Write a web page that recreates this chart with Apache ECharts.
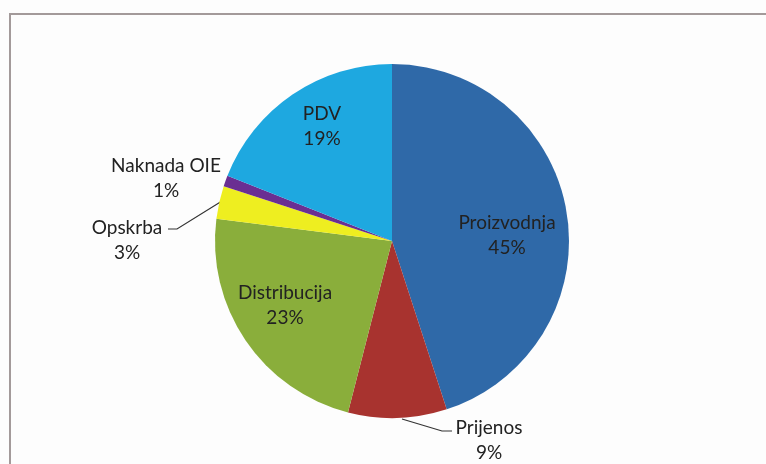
<!DOCTYPE html>
<html>
<head>
<meta charset="utf-8">
<script src="https://cdn.jsdelivr.net/npm/echarts@6/dist/echarts.min.js"></script>
<style>
  html, body { margin: 0; padding: 0; background: #fdfdfd; }
  #wrap { position: relative; width: 766px; height: 464px; overflow: hidden; }
  #frame {
    position: absolute; left: 9px; top: 13px; width: 800px; height: 500px;
    border-left: 2px solid #a39a9a; border-top: 2px solid #a39a9a;
  }
  #chart { position: absolute; left: 0; top: 0; width: 766px; height: 464px; }
</style>
</head>
<body>
<div id="wrap">
  <div id="frame"></div>
  <div id="chart"></div>
</div>
<script>
const names = ["Proizvodnja", "Prijenos", "Distribucija", "Opskrba", "Naknada OIE", "PDV"];
const shares = [45, 9, 23, 3, 1, 19];

const colors = ["#2f69a8", "#a8332f", "#8aae3b", "#eeee20", "#6a2f92", "#1ea8e0"];
// where each label sits (Excel moved them by hand)
const labelPos = [
  { x: 507, y: 235 },
  { x: 489, y: 440, line: [[402, 419], [442, 431], [452, 431]] },
  { x: 285, y: 305 },
  { x: 127, y: 240, line: [[222, 201], [177, 229], [168, 229]] },
  { x: 166, y: 178 },
  { x: 322, y: 126 },
];

const chart = echarts.init(document.getElementById("chart"));
const option = {
  animation: false,
  series: [
    {
      type: "pie",
      center: [392, 241],
      radius: 177,
      startAngle: 90,
      clockwise: true,
      silent: true,
      data: names.map((n, i) => ({
        name: n,
        value: shares[i],
        itemStyle: { color: colors[i] },
        labelLine: { show: !!labelPos[i].line },
      })),
      label: {
        show: true,
        position: "outside",
        formatter: "{b}\n{d}%",
        fontFamily: "Lato",
        fontSize: 19,
        lineHeight: 25,
        color: "#222",
        align: "center",
      },
      labelLine: {
        lineStyle: { color: "#333", width: 1.2 },
      },
      labelLayout: (p) => {
        const lp = labelPos[p.dataIndex];
        const out = { x: lp.x, y: lp.y, align: "center", verticalAlign: "middle" };
        if (lp.line) out.labelLinePoints = lp.line;
        return out;
      },
    },
  ],
};
chart.setOption(option);
</script>
</body>
</html>
